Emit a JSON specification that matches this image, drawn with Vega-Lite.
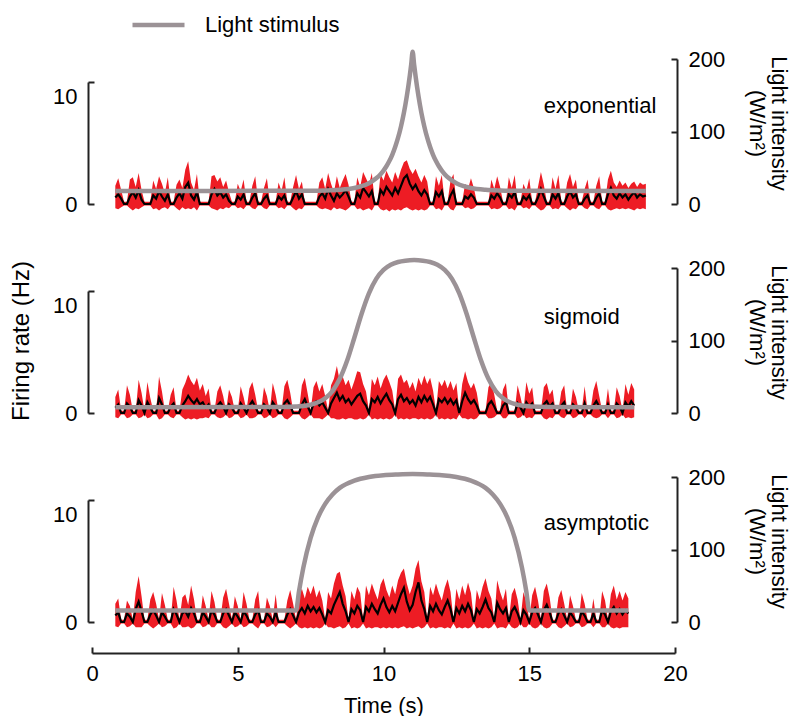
{
"$schema":"https://vega.github.io/schema/vega-lite/v6.json",
"padding":{"left":9,"top":13,"right":2,"bottom":0},
"config":{"view":{"stroke":null},"font":"Liberation Sans",
"axis":{"labelFont":"Liberation Sans","labelFontSize":22,"titleFont":"Liberation Sans","titleFontSize":22,"titleFontWeight":"normal","labelColor":"black","titleColor":"black","domainColor":"#222","tickColor":"#222","domainWidth":2,"tickWidth":2,"grid":false,"labelFlush":false}},
"datasets":{
"fe":[
{"t":0.8,"m":0.6,"l":-0.4,"h":1.7},{"t":0.9,"m":0.9,"l":-0.5,"h":2.4},{"t":1.0,"m":0.5,"l":-0.3,"h":1.3},{"t":1.1,"m":0,"l":-0.15,"h":0.2},{"t":1.2,"m":0,"l":-0.15,"h":0.2},{"t":1.3,"m":0.7,"l":-0.4,"h":2.3},{"t":1.4,"m":1.1,"l":-0.6,"h":2.5},{"t":1.5,"m":0.6,"l":-0.4,"h":1.6},{"t":1.6,"m":1.3,"l":-0.5,"h":2.9},{"t":1.7,"m":0.4,"l":-0.3,"h":1.3},
{"t":1.8,"m":0,"l":-0.15,"h":0.2},{"t":1.9,"m":0,"l":-0.15,"h":0.2},{"t":2.0,"m":0,"l":-0.15,"h":0.2},{"t":2.1,"m":0.8,"l":-0.5,"h":2.2},{"t":2.2,"m":0.5,"l":-0.4,"h":1.4},{"t":2.3,"m":1.2,"l":-0.6,"h":2.6},{"t":2.4,"m":0.7,"l":-0.4,"h":1.9},{"t":2.5,"m":0.3,"l":-0.3,"h":1.0},{"t":2.6,"m":0.9,"l":-0.5,"h":2.5},{"t":2.7,"m":0,"l":-0.15,"h":0.2},
{"t":2.8,"m":0,"l":-0.15,"h":0.2},{"t":2.9,"m":0.6,"l":-0.4,"h":1.8},{"t":3.0,"m":1.0,"l":-0.6,"h":2.3},{"t":3.1,"m":0.5,"l":-0.3,"h":1.5},{"t":3.2,"m":1.6,"l":-0.5,"h":3.2},{"t":3.3,"m":2.0,"l":-0.4,"h":4.0},{"t":3.4,"m":0.8,"l":-0.5,"h":2.0},{"t":3.5,"m":0.4,"l":-0.3,"h":1.3},{"t":3.6,"m":1.1,"l":-0.6,"h":2.8},{"t":3.7,"m":0,"l":-0.15,"h":0.2},
{"t":3.8,"m":0,"l":-0.15,"h":0.2},{"t":3.9,"m":0,"l":-0.15,"h":0.2},{"t":4.0,"m":0,"l":-0.15,"h":0.2},{"t":4.1,"m":0.9,"l":-0.4,"h":2.6},{"t":4.2,"m":1.4,"l":-0.5,"h":2.7},{"t":4.3,"m":0.8,"l":-0.6,"h":2.1},{"t":4.4,"m":1.1,"l":-0.4,"h":2.5},{"t":4.5,"m":0.6,"l":-0.5,"h":1.6},{"t":4.6,"m":0.9,"l":-0.3,"h":2.2},{"t":4.7,"m":0.3,"l":-0.4,"h":1.1},
{"t":4.8,"m":0,"l":-0.15,"h":0.2},{"t":4.9,"m":0,"l":-0.15,"h":0.2},{"t":5.0,"m":0.7,"l":-0.4,"h":1.9},{"t":5.1,"m":0.4,"l":-0.3,"h":1.2},{"t":5.2,"m":0.9,"l":-0.5,"h":2.3},{"t":5.3,"m":0,"l":-0.15,"h":0.2},{"t":5.4,"m":0,"l":-0.15,"h":0.2},{"t":5.5,"m":0.6,"l":-0.4,"h":1.7},{"t":5.6,"m":1.0,"l":-0.5,"h":2.6},{"t":5.7,"m":0,"l":-0.15,"h":0.2},
{"t":5.8,"m":0,"l":-0.15,"h":0.2},{"t":5.9,"m":0.5,"l":-0.4,"h":1.5},{"t":6.0,"m":0.8,"l":-0.5,"h":2.4},{"t":6.1,"m":0,"l":-0.15,"h":0.2},{"t":6.2,"m":0,"l":-0.15,"h":0.2},{"t":6.3,"m":0,"l":-0.15,"h":0.2},{"t":6.4,"m":0.7,"l":-0.4,"h":2.0},{"t":6.5,"m":0.4,"l":-0.3,"h":1.2},{"t":6.6,"m":0.8,"l":-0.5,"h":2.5},{"t":6.7,"m":0,"l":-0.15,"h":0.2},
{"t":6.8,"m":0,"l":-0.15,"h":0.2},{"t":6.9,"m":0.6,"l":-0.4,"h":1.6},{"t":7.0,"m":1.2,"l":-0.6,"h":2.7},{"t":7.1,"m":0.5,"l":-0.4,"h":1.4},{"t":7.2,"m":0.9,"l":-0.5,"h":2.1},{"t":7.3,"m":0,"l":-0.15,"h":0.2},{"t":7.4,"m":0,"l":-0.15,"h":0.2},{"t":7.5,"m":0,"l":-0.15,"h":0.2},{"t":7.6,"m":0,"l":-0.15,"h":0.2},{"t":7.7,"m":0,"l":-0.15,"h":0.2},
{"t":7.8,"m":0.7,"l":-0.4,"h":2.0},{"t":7.9,"m":1.0,"l":-0.5,"h":2.5},{"t":8.0,"m":0.5,"l":-0.4,"h":1.4},{"t":8.1,"m":1.4,"l":-0.5,"h":2.9},{"t":8.2,"m":0.8,"l":-0.6,"h":1.9},{"t":8.3,"m":0.3,"l":-0.3,"h":1.1},{"t":8.4,"m":1.0,"l":-0.5,"h":2.6},{"t":8.5,"m":0.6,"l":-0.4,"h":1.5},{"t":8.6,"m":0.9,"l":-0.5,"h":2.2},{"t":8.7,"m":1.3,"l":-0.6,"h":2.8},
{"t":8.8,"m":0.7,"l":-0.4,"h":1.8},{"t":8.9,"m":0,"l":-0.15,"h":0.2},{"t":9.0,"m":0,"l":-0.15,"h":0.2},{"t":9.1,"m":1.0,"l":-0.5,"h":2.5},{"t":9.2,"m":0.6,"l":-0.4,"h":1.6},{"t":9.3,"m":1.5,"l":-0.6,"h":3.0},{"t":9.4,"m":1.1,"l":-0.5,"h":2.4},{"t":9.5,"m":0.7,"l":-0.4,"h":1.8},{"t":9.6,"m":1.2,"l":-0.6,"h":2.9},{"t":9.7,"m":0,"l":-0.15,"h":0.2},
{"t":9.8,"m":0,"l":-0.15,"h":0.2},{"t":9.9,"m":1.3,"l":-0.5,"h":2.8},{"t":10.0,"m":0.9,"l":-0.6,"h":2.2},{"t":10.1,"m":1.6,"l":-0.5,"h":3.1},{"t":10.2,"m":1.2,"l":-0.7,"h":2.5},{"t":10.3,"m":0.8,"l":-0.5,"h":2.0},{"t":10.4,"m":1.5,"l":-0.6,"h":3.0},{"t":10.5,"m":1.0,"l":-0.5,"h":2.3},{"t":10.6,"m":1.7,"l":-0.6,"h":3.2},{"t":10.7,"m":2.4,"l":-0.4,"h":3.9},
{"t":10.8,"m":2.7,"l":-0.3,"h":4.1},{"t":10.9,"m":1.9,"l":-0.5,"h":3.3},{"t":11.0,"m":1.4,"l":-0.6,"h":2.8},{"t":11.1,"m":1.8,"l":-0.5,"h":3.3},{"t":11.2,"m":1.2,"l":-0.6,"h":2.6},{"t":11.3,"m":0.8,"l":-0.5,"h":2.0},{"t":11.4,"m":1.3,"l":-0.6,"h":2.7},{"t":11.5,"m":0.9,"l":-0.5,"h":2.1},{"t":11.6,"m":0,"l":-0.15,"h":0.2},{"t":11.7,"m":0,"l":-0.15,"h":0.2},
{"t":11.8,"m":1.1,"l":-0.5,"h":2.6},{"t":11.9,"m":0.7,"l":-0.4,"h":1.7},{"t":12.0,"m":1.2,"l":-0.6,"h":2.7},{"t":12.1,"m":0,"l":-0.15,"h":0.2},{"t":12.2,"m":0,"l":-0.15,"h":0.2},{"t":12.3,"m":0.8,"l":-0.5,"h":2.2},{"t":12.4,"m":1.3,"l":-0.6,"h":2.8},{"t":12.5,"m":0,"l":-0.15,"h":0.2},{"t":12.6,"m":0,"l":-0.15,"h":0.2},{"t":12.7,"m":0,"l":-0.15,"h":0.2},
{"t":12.8,"m":0.7,"l":-0.4,"h":1.9},{"t":12.9,"m":0.5,"l":-0.3,"h":1.4},{"t":13.0,"m":0.9,"l":-0.5,"h":2.4},{"t":13.1,"m":0.6,"l":-0.4,"h":1.5},{"t":13.2,"m":0,"l":-0.15,"h":0.2},{"t":13.3,"m":0,"l":-0.15,"h":0.2},{"t":13.4,"m":0,"l":-0.15,"h":0.2},{"t":13.5,"m":0,"l":-0.15,"h":0.2},{"t":13.6,"m":0,"l":-0.15,"h":0.2},{"t":13.7,"m":0.8,"l":-0.5,"h":2.3},
{"t":13.8,"m":0.5,"l":-0.4,"h":1.4},{"t":13.9,"m":1.0,"l":-0.5,"h":2.6},{"t":14.0,"m":0.6,"l":-0.4,"h":1.6},{"t":14.1,"m":0,"l":-0.15,"h":0.2},{"t":14.2,"m":0,"l":-0.15,"h":0.2},{"t":14.3,"m":0.9,"l":-0.5,"h":2.5},{"t":14.4,"m":0.6,"l":-0.4,"h":1.5},{"t":14.5,"m":1.1,"l":-0.6,"h":2.7},{"t":14.6,"m":0,"l":-0.15,"h":0.2},{"t":14.7,"m":0,"l":-0.15,"h":0.2},
{"t":14.8,"m":0.7,"l":-0.4,"h":1.9},{"t":14.9,"m":0.4,"l":-0.3,"h":1.2},{"t":15.0,"m":0.8,"l":-0.5,"h":2.4},{"t":15.1,"m":0,"l":-0.15,"h":0.2},{"t":15.2,"m":0,"l":-0.15,"h":0.2},{"t":15.3,"m":0.6,"l":-0.4,"h":1.6},{"t":15.4,"m":1.4,"l":-0.6,"h":3.0},{"t":15.5,"m":0.7,"l":-0.5,"h":1.8},{"t":15.6,"m":0,"l":-0.15,"h":0.2},{"t":15.7,"m":0,"l":-0.15,"h":0.2},
{"t":15.8,"m":0.9,"l":-0.5,"h":2.5},{"t":15.9,"m":0.5,"l":-0.4,"h":1.4},{"t":16.0,"m":1.0,"l":-0.5,"h":2.7},{"t":16.1,"m":0,"l":-0.15,"h":0.2},{"t":16.2,"m":0,"l":-0.15,"h":0.2},{"t":16.3,"m":0.7,"l":-0.4,"h":2.0},{"t":16.4,"m":1.2,"l":-0.6,"h":2.8},{"t":16.5,"m":0.6,"l":-0.4,"h":1.6},{"t":16.6,"m":0.9,"l":-0.5,"h":2.3},{"t":16.7,"m":0,"l":-0.15,"h":0.2},
{"t":16.8,"m":0,"l":-0.15,"h":0.2},{"t":16.9,"m":0.5,"l":-0.4,"h":1.4},{"t":17.0,"m":0.8,"l":-0.5,"h":2.3},{"t":17.1,"m":0,"l":-0.15,"h":0.2},{"t":17.2,"m":0,"l":-0.15,"h":0.2},{"t":17.3,"m":0.6,"l":-0.4,"h":1.7},{"t":17.4,"m":1.0,"l":-0.5,"h":2.6},{"t":17.5,"m":0,"l":-0.15,"h":0.2},{"t":17.6,"m":0,"l":-0.15,"h":0.2},{"t":17.7,"m":0.9,"l":-0.5,"h":2.3},
{"t":17.8,"m":1.5,"l":-0.6,"h":3.1},{"t":17.9,"m":0.8,"l":-0.5,"h":2.0},{"t":18.0,"m":0.5,"l":-0.4,"h":1.6},{"t":18.1,"m":1.0,"l":-0.5,"h":2.2},{"t":18.2,"m":0.6,"l":-0.4,"h":1.7},{"t":18.3,"m":0.9,"l":-0.5,"h":2.0},{"t":18.4,"m":0.4,"l":-0.4,"h":1.5},{"t":18.5,"m":0.8,"l":-0.5,"h":1.9},{"t":18.6,"m":1.1,"l":-0.6,"h":2.1},{"t":18.7,"m":0.6,"l":-0.4,"h":1.6},
{"t":18.8,"m":0.9,"l":-0.5,"h":2.0},{"t":18.9,"m":0.7,"l":-0.4,"h":1.8},{"t":19.0,"m":0.8,"l":-0.5,"h":1.9}
],
"fs":[
{"t":0.8,"m":0.5,"l":-0.4,"h":1.5},{"t":0.9,"m":0.8,"l":-0.5,"h":2.2},{"t":1.0,"m":0,"l":-0.15,"h":0.2},{"t":1.1,"m":0,"l":-0.15,"h":0.2},{"t":1.2,"m":0.9,"l":-0.5,"h":2.6},{"t":1.3,"m":0.6,"l":-0.4,"h":1.7},{"t":1.4,"m":0,"l":-0.15,"h":0.2},{"t":1.5,"m":0,"l":-0.15,"h":0.2},{"t":1.6,"m":1.2,"l":-0.5,"h":3.1},{"t":1.7,"m":0.7,"l":-0.4,"h":1.9},
{"t":1.8,"m":0,"l":-0.15,"h":0.2},{"t":1.9,"m":1.0,"l":-0.5,"h":2.9},{"t":2.0,"m":0.5,"l":-0.4,"h":1.4},{"t":2.1,"m":0,"l":-0.15,"h":0.2},{"t":2.2,"m":0,"l":-0.15,"h":0.2},{"t":2.3,"m":1.4,"l":-0.6,"h":3.4},{"t":2.4,"m":0.8,"l":-0.5,"h":2.0},{"t":2.5,"m":0,"l":-0.15,"h":0.2},{"t":2.6,"m":0,"l":-0.15,"h":0.2},{"t":2.7,"m":0.6,"l":-0.4,"h":1.7},
{"t":2.8,"m":0.9,"l":-0.5,"h":2.4},{"t":2.9,"m":0,"l":-0.15,"h":0.2},{"t":3.0,"m":0,"l":-0.15,"h":0.2},{"t":3.1,"m":0.7,"l":-0.4,"h":2.2},{"t":3.2,"m":1.1,"l":-0.6,"h":2.8},{"t":3.3,"m":1.6,"l":-0.5,"h":3.6},{"t":3.4,"m":1.2,"l":-0.6,"h":3.0},{"t":3.5,"m":0.9,"l":-0.5,"h":2.6},{"t":3.6,"m":1.3,"l":-0.6,"h":3.3},{"t":3.7,"m":0.8,"l":-0.5,"h":2.1},
{"t":3.8,"m":1.0,"l":-0.5,"h":2.7},{"t":3.9,"m":0.5,"l":-0.4,"h":1.6},{"t":4.0,"m":0.8,"l":-0.5,"h":2.3},{"t":4.1,"m":0,"l":-0.15,"h":0.2},{"t":4.2,"m":0,"l":-0.15,"h":0.2},{"t":4.3,"m":0.7,"l":-0.4,"h":2.0},{"t":4.4,"m":1.0,"l":-0.5,"h":2.6},{"t":4.5,"m":0.6,"l":-0.4,"h":1.6},{"t":4.6,"m":0,"l":-0.15,"h":0.2},{"t":4.7,"m":0.8,"l":-0.5,"h":2.2},
{"t":4.8,"m":0.5,"l":-0.4,"h":1.5},{"t":4.9,"m":0,"l":-0.15,"h":0.2},{"t":5.0,"m":0,"l":-0.15,"h":0.2},{"t":5.1,"m":0.9,"l":-0.5,"h":2.5},{"t":5.2,"m":0.5,"l":-0.4,"h":1.5},{"t":5.3,"m":0,"l":-0.15,"h":0.2},{"t":5.4,"m":0.7,"l":-0.5,"h":2.3},{"t":5.5,"m":1.1,"l":-0.5,"h":2.9},{"t":5.6,"m":0.6,"l":-0.4,"h":1.7},{"t":5.7,"m":0,"l":-0.15,"h":0.2},
{"t":5.8,"m":0,"l":-0.15,"h":0.2},{"t":5.9,"m":0.8,"l":-0.5,"h":2.4},{"t":6.0,"m":0.5,"l":-0.4,"h":1.6},{"t":6.1,"m":0,"l":-0.15,"h":0.2},{"t":6.2,"m":1.0,"l":-0.5,"h":2.8},{"t":6.3,"m":0.6,"l":-0.4,"h":1.7},{"t":6.4,"m":0,"l":-0.15,"h":0.2},{"t":6.5,"m":0,"l":-0.15,"h":0.2},{"t":6.6,"m":0.9,"l":-0.5,"h":2.5},{"t":6.7,"m":1.2,"l":-0.6,"h":3.1},
{"t":6.8,"m":0.7,"l":-0.4,"h":1.9},{"t":6.9,"m":0,"l":-0.15,"h":0.2},{"t":7.0,"m":0,"l":-0.15,"h":0.2},{"t":7.1,"m":0,"l":-0.15,"h":0.2},{"t":7.2,"m":0.8,"l":-0.5,"h":2.6},{"t":7.3,"m":1.3,"l":-0.6,"h":3.3},{"t":7.4,"m":0.6,"l":-0.4,"h":1.8},{"t":7.5,"m":0,"l":-0.15,"h":0.2},{"t":7.6,"m":0.9,"l":-0.5,"h":2.4},{"t":7.7,"m":1.1,"l":-0.5,"h":3.0},
{"t":7.8,"m":0.7,"l":-0.5,"h":2.0},{"t":7.9,"m":1.0,"l":-0.6,"h":2.7},{"t":8.0,"m":0.5,"l":-0.4,"h":1.6},{"t":8.1,"m":0,"l":-0.15,"h":0.2},{"t":8.2,"m":0.9,"l":-0.5,"h":2.6},{"t":8.3,"m":1.4,"l":-0.5,"h":3.2},{"t":8.4,"m":1.9,"l":-0.6,"h":4.4},{"t":8.5,"m":1.2,"l":-0.6,"h":3.0},{"t":8.6,"m":1.6,"l":-0.5,"h":3.4},{"t":8.7,"m":1.0,"l":-0.6,"h":2.6},
{"t":8.8,"m":1.3,"l":-0.5,"h":3.1},{"t":8.9,"m":0.8,"l":-0.5,"h":2.2},{"t":9.0,"m":1.2,"l":-0.6,"h":3.0},{"t":9.1,"m":1.6,"l":-0.6,"h":3.9},{"t":9.2,"m":1.8,"l":-0.5,"h":3.8},{"t":9.3,"m":1.1,"l":-0.6,"h":2.7},{"t":9.4,"m":0.7,"l":-0.5,"h":2.0},{"t":9.5,"m":0,"l":-0.15,"h":0.2},{"t":9.6,"m":1.3,"l":-0.6,"h":3.2},{"t":9.7,"m":1.0,"l":-0.5,"h":2.6},
{"t":9.8,"m":1.5,"l":-0.6,"h":3.4},{"t":9.9,"m":0.9,"l":-0.5,"h":2.3},{"t":10.0,"m":1.4,"l":-0.6,"h":3.1},{"t":10.1,"m":1.8,"l":-0.5,"h":3.6},{"t":10.2,"m":1.2,"l":-0.6,"h":2.9},{"t":10.3,"m":0.8,"l":-0.5,"h":2.1},{"t":10.4,"m":0,"l":-0.15,"h":0.2},{"t":10.5,"m":1.3,"l":-0.6,"h":3.2},{"t":10.6,"m":1.7,"l":-0.5,"h":3.6},{"t":10.7,"m":1.1,"l":-0.6,"h":2.8},
{"t":10.8,"m":1.4,"l":-0.5,"h":3.1},{"t":10.9,"m":0.9,"l":-0.6,"h":2.3},{"t":11.0,"m":1.2,"l":-0.5,"h":2.9},{"t":11.1,"m":0.7,"l":-0.5,"h":2.0},{"t":11.2,"m":1.5,"l":-0.6,"h":3.3},{"t":11.3,"m":1.0,"l":-0.5,"h":2.6},{"t":11.4,"m":1.6,"l":-0.6,"h":3.5},{"t":11.5,"m":1.1,"l":-0.5,"h":2.7},{"t":11.6,"m":1.5,"l":-0.6,"h":3.3},{"t":11.7,"m":0.8,"l":-0.5,"h":2.1},
{"t":11.8,"m":0,"l":-0.15,"h":0.2},{"t":11.9,"m":1.3,"l":-0.6,"h":3.0},{"t":12.0,"m":1.0,"l":-0.5,"h":2.5},{"t":12.1,"m":1.4,"l":-0.6,"h":3.1},{"t":12.2,"m":0.9,"l":-0.5,"h":2.3},{"t":12.3,"m":1.3,"l":-0.6,"h":3.0},{"t":12.4,"m":0.8,"l":-0.5,"h":2.1},{"t":12.5,"m":1.2,"l":-0.6,"h":2.8},{"t":12.6,"m":0,"l":-0.15,"h":0.2},{"t":12.7,"m":1.1,"l":-0.5,"h":2.7},
{"t":12.8,"m":1.9,"l":-0.5,"h":3.9},{"t":12.9,"m":1.3,"l":-0.6,"h":2.9},{"t":13.0,"m":0.9,"l":-0.5,"h":2.3},{"t":13.1,"m":1.2,"l":-0.6,"h":2.8},{"t":13.2,"m":0.7,"l":-0.5,"h":1.9},{"t":13.3,"m":0,"l":-0.15,"h":0.2},{"t":13.4,"m":0,"l":-0.15,"h":0.2},{"t":13.5,"m":0,"l":-0.15,"h":0.2},{"t":13.6,"m":0.8,"l":-0.5,"h":2.4},{"t":13.7,"m":1.1,"l":-0.5,"h":2.9},
{"t":13.8,"m":0.6,"l":-0.4,"h":1.7},{"t":13.9,"m":0,"l":-0.15,"h":0.2},{"t":14.0,"m":0,"l":-0.15,"h":0.2},{"t":14.1,"m":0.7,"l":-0.5,"h":2.2},{"t":14.2,"m":1.0,"l":-0.5,"h":2.8},{"t":14.3,"m":0,"l":-0.15,"h":0.2},{"t":14.4,"m":0,"l":-0.15,"h":0.2},{"t":14.5,"m":0,"l":-0.15,"h":0.2},{"t":14.6,"m":0.9,"l":-0.5,"h":2.6},{"t":14.7,"m":0.5,"l":-0.4,"h":1.5},
{"t":14.8,"m":0,"l":-0.15,"h":0.2},{"t":14.9,"m":1.0,"l":-0.5,"h":2.9},{"t":15.0,"m":0.6,"l":-0.4,"h":1.8},{"t":15.1,"m":0.9,"l":-0.5,"h":2.4},{"t":15.2,"m":0,"l":-0.15,"h":0.2},{"t":15.3,"m":0,"l":-0.15,"h":0.2},{"t":15.4,"m":0,"l":-0.15,"h":0.2},{"t":15.5,"m":0.8,"l":-0.5,"h":2.4},{"t":15.6,"m":1.1,"l":-0.6,"h":2.8},{"t":15.7,"m":0.6,"l":-0.4,"h":1.7},
{"t":15.8,"m":0.9,"l":-0.5,"h":2.2},{"t":15.9,"m":0,"l":-0.15,"h":0.2},{"t":16.0,"m":0,"l":-0.15,"h":0.2},{"t":16.1,"m":0.7,"l":-0.4,"h":2.0},{"t":16.2,"m":1.0,"l":-0.5,"h":2.6},{"t":16.3,"m":0,"l":-0.15,"h":0.2},{"t":16.4,"m":0,"l":-0.15,"h":0.2},{"t":16.5,"m":0.8,"l":-0.5,"h":2.3},{"t":16.6,"m":0.5,"l":-0.4,"h":1.5},{"t":16.7,"m":0,"l":-0.15,"h":0.2},
{"t":16.8,"m":0,"l":-0.15,"h":0.2},{"t":16.9,"m":0.9,"l":-0.5,"h":2.5},{"t":17.0,"m":0,"l":-0.15,"h":0.2},{"t":17.1,"m":0,"l":-0.15,"h":0.2},{"t":17.2,"m":0.7,"l":-0.4,"h":2.1},{"t":17.3,"m":1.1,"l":-0.5,"h":3.0},{"t":17.4,"m":0.6,"l":-0.4,"h":1.6},{"t":17.5,"m":0,"l":-0.15,"h":0.2},{"t":17.6,"m":0,"l":-0.15,"h":0.2},{"t":17.7,"m":0.8,"l":-0.5,"h":2.3},
{"t":17.8,"m":0,"l":-0.15,"h":0.2},{"t":17.9,"m":0,"l":-0.15,"h":0.2},{"t":18.0,"m":0.9,"l":-0.5,"h":2.4},{"t":18.1,"m":0.6,"l":-0.4,"h":1.6},{"t":18.2,"m":0,"l":-0.15,"h":0.2},{"t":18.3,"m":1.0,"l":-0.5,"h":2.7},{"t":18.4,"m":0.6,"l":-0.4,"h":1.7},{"t":18.5,"m":1.1,"l":-0.5,"h":2.8},{"t":18.6,"m":0.7,"l":-0.4,"h":2.2}
],
"fa":[
{"t":0.8,"m":0.6,"l":-0.4,"h":1.7},{"t":0.9,"m":0.9,"l":-0.5,"h":2.2},{"t":1.0,"m":0,"l":-0.15,"h":0.2},{"t":1.1,"m":0,"l":-0.15,"h":0.2},{"t":1.2,"m":0.8,"l":-0.5,"h":2.0},{"t":1.3,"m":0.5,"l":-0.4,"h":1.5},{"t":1.4,"m":0,"l":-0.15,"h":0.2},{"t":1.5,"m":1.2,"l":-0.5,"h":2.8},{"t":1.6,"m":1.9,"l":-0.5,"h":4.3},{"t":1.7,"m":1.0,"l":-0.5,"h":2.4},
{"t":1.8,"m":0,"l":-0.15,"h":0.2},{"t":1.9,"m":0,"l":-0.15,"h":0.2},{"t":2.0,"m":0.7,"l":-0.4,"h":2.1},{"t":2.1,"m":1.1,"l":-0.6,"h":2.8},{"t":2.2,"m":0.6,"l":-0.4,"h":1.7},{"t":2.3,"m":0,"l":-0.15,"h":0.2},{"t":2.4,"m":0.9,"l":-0.5,"h":2.7},{"t":2.5,"m":0.5,"l":-0.4,"h":1.6},{"t":2.6,"m":0,"l":-0.15,"h":0.2},{"t":2.7,"m":0,"l":-0.15,"h":0.2},
{"t":2.8,"m":1.2,"l":-0.6,"h":3.3},{"t":2.9,"m":0.7,"l":-0.5,"h":2.0},{"t":3.0,"m":0,"l":-0.15,"h":0.2},{"t":3.1,"m":0.8,"l":-0.5,"h":2.3},{"t":3.2,"m":1.0,"l":-0.5,"h":2.6},{"t":3.3,"m":0.5,"l":-0.4,"h":1.6},{"t":3.4,"m":1.3,"l":-0.6,"h":3.4},{"t":3.5,"m":0.8,"l":-0.5,"h":2.1},{"t":3.6,"m":0,"l":-0.15,"h":0.2},{"t":3.7,"m":0,"l":-0.15,"h":0.2},
{"t":3.8,"m":0.9,"l":-0.5,"h":2.5},{"t":3.9,"m":0.5,"l":-0.4,"h":1.5},{"t":4.0,"m":0,"l":-0.15,"h":0.2},{"t":4.1,"m":1.1,"l":-0.5,"h":2.9},{"t":4.2,"m":0.7,"l":-0.5,"h":1.9},{"t":4.3,"m":0,"l":-0.15,"h":0.2},{"t":4.4,"m":0,"l":-0.15,"h":0.2},{"t":4.5,"m":0.8,"l":-0.5,"h":2.3},{"t":4.6,"m":1.2,"l":-0.6,"h":3.1},{"t":4.7,"m":0.6,"l":-0.4,"h":1.7},
{"t":4.8,"m":0,"l":-0.15,"h":0.2},{"t":4.9,"m":0.9,"l":-0.5,"h":2.4},{"t":5.0,"m":0.5,"l":-0.4,"h":1.5},{"t":5.1,"m":0,"l":-0.15,"h":0.2},{"t":5.2,"m":1.0,"l":-0.5,"h":2.8},{"t":5.3,"m":0.6,"l":-0.4,"h":1.7},{"t":5.4,"m":0,"l":-0.15,"h":0.2},{"t":5.5,"m":0,"l":-0.15,"h":0.2},{"t":5.6,"m":0.7,"l":-0.4,"h":2.1},{"t":5.7,"m":1.1,"l":-0.6,"h":2.9},
{"t":5.8,"m":0,"l":-0.15,"h":0.2},{"t":5.9,"m":0,"l":-0.15,"h":0.2},{"t":6.0,"m":0.8,"l":-0.5,"h":2.3},{"t":6.1,"m":0.5,"l":-0.4,"h":1.5},{"t":6.2,"m":0,"l":-0.15,"h":0.2},{"t":6.3,"m":0.9,"l":-0.5,"h":2.6},{"t":6.4,"m":0,"l":-0.15,"h":0.2},{"t":6.5,"m":0,"l":-0.15,"h":0.2},{"t":6.6,"m":0,"l":-0.15,"h":0.2},{"t":6.7,"m":0.7,"l":-0.4,"h":2.0},
{"t":6.8,"m":1.2,"l":-0.6,"h":3.0},{"t":6.9,"m":0.6,"l":-0.4,"h":1.7},{"t":7.0,"m":0,"l":-0.15,"h":0.2},{"t":7.1,"m":0.9,"l":-0.5,"h":2.4},{"t":7.2,"m":1.3,"l":-0.6,"h":3.1},{"t":7.3,"m":0.8,"l":-0.5,"h":2.2},{"t":7.4,"m":1.5,"l":-0.6,"h":3.3},{"t":7.5,"m":1.0,"l":-0.5,"h":2.6},{"t":7.6,"m":1.4,"l":-0.6,"h":3.4},{"t":7.7,"m":0.9,"l":-0.5,"h":2.3},
{"t":7.8,"m":1.3,"l":-0.6,"h":3.0},{"t":7.9,"m":0.7,"l":-0.5,"h":2.0},{"t":8.0,"m":0,"l":-0.15,"h":0.2},{"t":8.1,"m":1.1,"l":-0.5,"h":2.8},{"t":8.2,"m":0.8,"l":-0.5,"h":2.2},{"t":8.3,"m":1.6,"l":-0.6,"h":3.6},{"t":8.4,"m":2.2,"l":-0.5,"h":4.5},{"t":8.5,"m":2.8,"l":-0.4,"h":4.7},{"t":8.6,"m":1.7,"l":-0.6,"h":3.4},{"t":8.7,"m":1.0,"l":-0.5,"h":2.4},
{"t":8.8,"m":0,"l":-0.15,"h":0.2},{"t":8.9,"m":1.2,"l":-0.6,"h":2.9},{"t":9.0,"m":0.8,"l":-0.5,"h":2.1},{"t":9.1,"m":1.5,"l":-0.6,"h":3.3},{"t":9.2,"m":1.1,"l":-0.5,"h":2.7},{"t":9.3,"m":0,"l":-0.15,"h":0.2},{"t":9.4,"m":1.4,"l":-0.6,"h":3.4},{"t":9.5,"m":1.0,"l":-0.5,"h":2.5},{"t":9.6,"m":1.7,"l":-0.6,"h":3.6},{"t":9.7,"m":1.2,"l":-0.5,"h":2.8},
{"t":9.8,"m":0.8,"l":-0.5,"h":2.1},{"t":9.9,"m":1.6,"l":-0.6,"h":3.5},{"t":10.0,"m":2.2,"l":-0.5,"h":4.1},{"t":10.1,"m":1.4,"l":-0.6,"h":3.0},{"t":10.2,"m":0.9,"l":-0.5,"h":2.3},{"t":10.3,"m":1.5,"l":-0.6,"h":3.4},{"t":10.4,"m":1.0,"l":-0.5,"h":2.6},{"t":10.5,"m":1.8,"l":-0.6,"h":3.9},{"t":10.6,"m":2.6,"l":-0.5,"h":4.6},{"t":10.7,"m":3.2,"l":-0.4,"h":5.0},
{"t":10.8,"m":1.9,"l":-0.6,"h":3.6},{"t":10.9,"m":1.1,"l":-0.5,"h":2.6},{"t":11.0,"m":1.6,"l":-0.6,"h":3.4},{"t":11.1,"m":2.8,"l":-0.5,"h":5.0},{"t":11.2,"m":3.7,"l":-0.4,"h":5.8},{"t":11.3,"m":2.0,"l":-0.6,"h":3.8},{"t":11.4,"m":1.2,"l":-0.5,"h":2.8},{"t":11.5,"m":0,"l":-0.15,"h":0.2},{"t":11.6,"m":1.5,"l":-0.6,"h":3.3},{"t":11.7,"m":1.0,"l":-0.5,"h":2.5},
{"t":11.8,"m":1.7,"l":-0.6,"h":3.6},{"t":11.9,"m":1.1,"l":-0.5,"h":2.7},{"t":12.0,"m":0.7,"l":-0.5,"h":2.0},{"t":12.1,"m":1.4,"l":-0.6,"h":3.2},{"t":12.2,"m":2.0,"l":-0.5,"h":4.0},{"t":12.3,"m":1.2,"l":-0.6,"h":2.8},{"t":12.4,"m":0,"l":-0.15,"h":0.2},{"t":12.5,"m":1.3,"l":-0.6,"h":3.1},{"t":12.6,"m":0.8,"l":-0.5,"h":2.1},{"t":12.7,"m":1.5,"l":-0.6,"h":3.4},
{"t":12.8,"m":1.0,"l":-0.5,"h":2.5},{"t":12.9,"m":1.7,"l":-0.6,"h":3.7},{"t":13.0,"m":1.1,"l":-0.5,"h":2.7},{"t":13.1,"m":0,"l":-0.15,"h":0.2},{"t":13.2,"m":1.2,"l":-0.6,"h":3.0},{"t":13.3,"m":0.8,"l":-0.5,"h":2.1},{"t":13.4,"m":1.4,"l":-0.6,"h":3.3},{"t":13.5,"m":2.1,"l":-0.5,"h":4.1},{"t":13.6,"m":1.3,"l":-0.6,"h":2.9},{"t":13.7,"m":0.9,"l":-0.5,"h":2.2},
{"t":13.8,"m":0,"l":-0.15,"h":0.2},{"t":13.9,"m":1.8,"l":-0.6,"h":3.9},{"t":14.0,"m":1.2,"l":-0.5,"h":2.8},{"t":14.1,"m":0.8,"l":-0.5,"h":2.0},{"t":14.2,"m":1.3,"l":-0.6,"h":3.1},{"t":14.3,"m":0,"l":-0.15,"h":0.2},{"t":14.4,"m":1.0,"l":-0.5,"h":2.6},{"t":14.5,"m":1.4,"l":-0.6,"h":3.2},{"t":14.6,"m":0.8,"l":-0.5,"h":2.1},{"t":14.7,"m":0,"l":-0.15,"h":0.2},
{"t":14.8,"m":1.1,"l":-0.5,"h":2.8},{"t":14.9,"m":0.7,"l":-0.5,"h":1.9},{"t":15.0,"m":0,"l":-0.15,"h":0.2},{"t":15.1,"m":0.9,"l":-0.5,"h":2.5},{"t":15.2,"m":1.3,"l":-0.6,"h":3.3},{"t":15.3,"m":0.7,"l":-0.5,"h":2.0},{"t":15.4,"m":0,"l":-0.15,"h":0.2},{"t":15.5,"m":1.1,"l":-0.5,"h":2.9},{"t":15.6,"m":1.6,"l":-0.6,"h":3.6},{"t":15.7,"m":0.9,"l":-0.5,"h":2.3},
{"t":15.8,"m":0,"l":-0.15,"h":0.2},{"t":15.9,"m":0,"l":-0.15,"h":0.2},{"t":16.0,"m":0.8,"l":-0.5,"h":2.3},{"t":16.1,"m":1.2,"l":-0.6,"h":3.0},{"t":16.2,"m":0.6,"l":-0.4,"h":1.7},{"t":16.3,"m":0,"l":-0.15,"h":0.2},{"t":16.4,"m":0.9,"l":-0.5,"h":2.5},{"t":16.5,"m":0.5,"l":-0.4,"h":1.5},{"t":16.6,"m":0,"l":-0.15,"h":0.2},{"t":16.7,"m":0,"l":-0.15,"h":0.2},
{"t":16.8,"m":1.0,"l":-0.5,"h":2.7},{"t":16.9,"m":0.6,"l":-0.4,"h":1.7},{"t":17.0,"m":0,"l":-0.15,"h":0.2},{"t":17.1,"m":0,"l":-0.15,"h":0.2},{"t":17.2,"m":0.8,"l":-0.5,"h":2.2},{"t":17.3,"m":0,"l":-0.15,"h":0.2},{"t":17.4,"m":0,"l":-0.15,"h":0.2},{"t":17.5,"m":1.1,"l":-0.5,"h":2.9},{"t":17.6,"m":0.7,"l":-0.5,"h":2.0},{"t":17.7,"m":0,"l":-0.15,"h":0.2},
{"t":17.8,"m":1.0,"l":-0.5,"h":2.6},{"t":17.9,"m":1.4,"l":-0.6,"h":3.4},{"t":18.0,"m":0.8,"l":-0.5,"h":2.1},{"t":18.1,"m":1.2,"l":-0.6,"h":2.9},{"t":18.2,"m":0.7,"l":-0.5,"h":2.0},{"t":18.3,"m":1.1,"l":-0.5,"h":2.8},{"t":18.4,"m":0.8,"l":-0.5,"h":2.2}
],
"le":[{"t":0.8,"I":18},{"t":7.5,"I":18.2},{"t":8,"I":18.6},{"t":8.5,"I":19.6},{"t":9,"I":22.1},{"t":9.25,"I":24.6},{"t":9.5,"I":28.7},{"t":9.75,"I":35.4},{"t":9.9,"I":41.2},{"t":10,"I":46.1},{"t":10.1,"I":52.0},{"t":10.2,"I":59.2},{"t":10.3,"I":67.9},{"t":10.4,"I":78.6},{"t":10.5,"I":91.4},{"t":10.6,"I":107.0},{"t":10.7,"I":125.8},{"t":10.75,"I":136.7},{"t":10.8,"I":148.7},{"t":10.85,"I":161.9},{"t":10.9,"I":176.4},{"t":10.95,"I":192.3},{"t":11,"I":210},{"t":11.05,"I":192.3},{"t":11.1,"I":176.4},{"t":11.15,"I":161.9},{"t":11.2,"I":148.7},{"t":11.25,"I":136.7},{"t":11.3,"I":125.8},{"t":11.4,"I":107.0},{"t":11.5,"I":91.4},{"t":11.6,"I":78.6},{"t":11.7,"I":67.9},{"t":11.8,"I":59.2},{"t":11.9,"I":52.0},{"t":12,"I":46.1},{"t":12.1,"I":41.2},{"t":12.25,"I":35.4},{"t":12.5,"I":28.7},{"t":12.75,"I":24.6},{"t":13,"I":22.1},{"t":13.5,"I":19.6},{"t":14,"I":18.6},{"t":14.5,"I":18.2},{"t":19,"I":18}],
"ls":[{"t":0.8,"I":8},{"t":6.5,"I":8.2},{"t":7,"I":8.9},{"t":7.5,"I":11.4},{"t":8,"I":20.2},{"t":8.25,"I":30.3},{"t":8.5,"I":47.1},{"t":8.75,"I":72.0},{"t":9,"I":103.8},{"t":9.25,"I":136.9},{"t":9.5,"I":165.0},{"t":9.75,"I":185.0},{"t":10,"I":197.4},{"t":10.25,"I":204.5},{"t":10.5,"I":208.3},{"t":10.75,"I":210.1},{"t":11.05,"I":210.9},{"t":11.35,"I":210.1},{"t":11.6,"I":208.3},{"t":11.85,"I":204.5},{"t":12.1,"I":197.4},{"t":12.35,"I":185.0},{"t":12.6,"I":165.0},{"t":12.85,"I":136.9},{"t":13.1,"I":103.8},{"t":13.35,"I":72.0},{"t":13.6,"I":47.1},{"t":13.85,"I":30.3},{"t":14.1,"I":20.2},{"t":14.6,"I":11.4},{"t":15.1,"I":8.9},{"t":15.6,"I":8.2},{"t":18.6,"I":8}],
"la":[{"t":0.8,"I":16},{"t":7.0,"I":16},{"t":7.1,"I":42},{"t":7.25,"I":75},{"t":7.5,"I":116},{"t":7.75,"I":144},{"t":8,"I":163},{"t":8.25,"I":176},{"t":8.5,"I":185},{"t":9,"I":195},{"t":9.5,"I":200},{"t":10,"I":202.5},{"t":10.5,"I":203.5},{"t":11,"I":204},{"t":11.5,"I":203.5},{"t":12,"I":202.5},{"t":12.5,"I":200},{"t":13,"I":195},{"t":13.5,"I":185},{"t":13.75,"I":176},{"t":14,"I":163},{"t":14.25,"I":144},{"t":14.5,"I":116},{"t":14.75,"I":75},{"t":14.9,"I":42},{"t":15,"I":16},{"t":18.4,"I":16}]
},
"spacing":64,
"bounds":"flush",
"vconcat":[
{"width":583,"height":145,
 "encoding":{"x":{"field":"t","type":"quantitative","scale":{"domain":[0,20],"nice":false},"axis":null}},
 "layer":[
  {"data":{"name":"fe"},"layer":[
   {"mark":{"type":"area","color":"#ed1c24"},"encoding":{"y":{"field":"l","type":"quantitative","scale":{"domain":[0,13.55],"nice":false},"axis":{"orient":"left","values":[0,10,11.4],"labelExpr":"datum.value == 11.4 ? '' : datum.label","tickOpacity":{"condition":{"test":"datum.value == 10","value":0},"value":1},"tickSize":-6,"labelPadding":17,"domainDash":[122,400],"offset":4,"title":null}},"y2":{"field":"h"}}},
   {"mark":{"type":"line","color":"black","strokeWidth":2.2},"encoding":{"y":{"field":"m","type":"quantitative"}}}
  ]},
  {"layer":[
   {"data":{"name":"le"},"mark":{"type":"line","strokeWidth":4.5,"interpolate":"monotone"},"encoding":{"y":{"field":"I","type":"quantitative","scale":{"domain":[0,200],"nice":false},"axis":{"orient":"right","values":[0,100,200],"tickSize":-6,"labelPadding":17,"offset":2,"title":["Light intensity","(W/m²)"],"titlePadding":20,"titleLineHeight":22,"titleY":64}},"color":{"datum":"Light stimulus","type":"nominal","scale":{"range":["#9b9296"]},"legend":{"orient":"none","legendX":38,"legendY":-46,"clipHeight":24,"title":null,"symbolType":"stroke","symbolSize":2704,"symbolStrokeWidth":4.5,"labelFontSize":22,"labelFont":"Liberation Sans","labelColor":"black","labelOffset":18}}}},
   {"data":{"values":[{"t":15.5,"I":135,"txt":"exponential"}]},"mark":{"type":"text","align":"left","baseline":"middle","fontSize":22,"font":"Liberation Sans","color":"black"},"encoding":{"y":{"field":"I","type":"quantitative"},"text":{"field":"txt"}}}
  ]}
 ],
 "resolve":{"scale":{"y":"independent"}}
},
{"width":583,"height":145,
 "encoding":{"x":{"field":"t","type":"quantitative","scale":{"domain":[0,20],"nice":false},"axis":null}},
 "layer":[
  {"data":{"name":"fs"},"layer":[
   {"mark":{"type":"area","color":"#ed1c24"},"encoding":{"y":{"field":"l","type":"quantitative","scale":{"domain":[0,13.55],"nice":false},"axis":{"orient":"left","values":[0,10,11.4],"labelExpr":"datum.value == 11.4 ? '' : datum.label","tickOpacity":{"condition":{"test":"datum.value == 10","value":0},"value":1},"tickSize":-6,"labelPadding":17,"domainDash":[122,400],"offset":4,"title":"Firing rate (Hz)","titleFontSize":24,"titlePadding":19}},"y2":{"field":"h"}}},
   {"mark":{"type":"line","color":"black","strokeWidth":2.2},"encoding":{"y":{"field":"m","type":"quantitative"}}}
  ]},
  {"layer":[
   {"data":{"name":"ls"},"mark":{"type":"line","strokeWidth":4.5,"interpolate":"monotone","color":"#9b9296"},"encoding":{"y":{"field":"I","type":"quantitative","scale":{"domain":[0,200],"nice":false},"axis":{"orient":"right","values":[0,100,200],"tickSize":-6,"labelPadding":17,"offset":2,"title":["Light intensity","(W/m²)"],"titlePadding":20,"titleLineHeight":22,"titleY":64}}}},
   {"data":{"values":[{"t":15.5,"I":133,"txt":"sigmoid"}]},"mark":{"type":"text","align":"left","baseline":"middle","fontSize":22,"font":"Liberation Sans","color":"black"},"encoding":{"y":{"field":"I","type":"quantitative"},"text":{"field":"txt"}}}
  ]}
 ],
 "resolve":{"scale":{"y":"independent"}}
},
{"width":583,"height":145,
 "encoding":{"x":{"field":"t","type":"quantitative","scale":{"domain":[0,20],"nice":false},"axis":{"values":[0,5,10,15,20],"tickSize":-6,"labelPadding":16,"offset":31,"title":"Time (s)","titlePadding":11}}},
 "layer":[
  {"data":{"name":"fa"},"layer":[
   {"mark":{"type":"area","color":"#ed1c24"},"encoding":{"y":{"field":"l","type":"quantitative","scale":{"domain":[0,13.55],"nice":false},"axis":{"orient":"left","values":[0,10,11.4],"labelExpr":"datum.value == 11.4 ? '' : datum.label","tickOpacity":{"condition":{"test":"datum.value == 10","value":0},"value":1},"tickSize":-6,"labelPadding":17,"domainDash":[122,400],"offset":4,"title":null}},"y2":{"field":"h"}}},
   {"mark":{"type":"line","color":"black","strokeWidth":2.2},"encoding":{"y":{"field":"m","type":"quantitative"}}}
  ]},
  {"layer":[
   {"data":{"name":"la"},"mark":{"type":"line","strokeWidth":4.5,"interpolate":"monotone","color":"#9b9296"},"encoding":{"y":{"field":"I","type":"quantitative","scale":{"domain":[0,200],"nice":false},"axis":{"orient":"right","values":[0,100,200],"tickSize":-6,"labelPadding":17,"offset":2,"title":["Light intensity","(W/m²)"],"titlePadding":20,"titleLineHeight":22,"titleY":64}}}},
   {"data":{"values":[{"t":15.5,"I":136,"txt":"asymptotic"}]},"mark":{"type":"text","align":"left","baseline":"middle","fontSize":22,"font":"Liberation Sans","color":"black"},"encoding":{"y":{"field":"I","type":"quantitative"},"text":{"field":"txt"}}}
  ]}
 ],
 "resolve":{"scale":{"y":"independent"}}
}
]
}
